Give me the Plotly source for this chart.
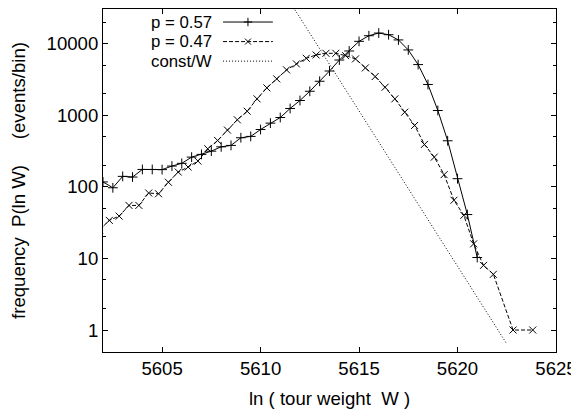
import plotly.graph_objects as go

# ---- data ----
p57_x = [5602.0 + 0.5 * i for i in range(39)]
p57_y = [117, 97, 140, 137, 175, 175, 174, 195, 213, 260,
         284, 315, 362, 379, 485, 506, 632, 776, 930, 1243,
         1606, 2163, 2983, 4150, 5910, 7900, 10770, 12900, 14060, 13330,
         11270, 8170, 5100, 2690, 1165, 440, 130, 41, 10.3]

p47_x = [5601.82 + 0.5 * i for i in range(45)]
p47_y = [25, 34, 39, 55, 55, 82, 80, 116, 161, 189,
         229, 340, 444, 620, 864, 1138, 1694, 2412, 3220, 4300,
         5210, 6240, 6950, 7330, 7330, 6800, 6120, 4580, 3470, 2460,
         1694, 1104, 720, 391, 260, 148, 65, 40, 16, 8,
         6, None, 1, None, 1]

constw_x = [5611.5, 5622.5]
constw_y = [38000, 0.64]

x_ticks = [5605, 5610, 5615, 5620, 5625]
y_ticks = [1, 10, 100, 1000, 10000]
y_minor = [2, 5, 20, 50, 200, 500, 2000, 5000, 20000]

legend_names = ["p = 0.57", "p = 0.47", "const/W"]

FONT = "Liberation Sans, Arial, Helvetica, sans-serif"
FS = 18.6
LEG_FS = 16.8
BLACK = "#000000"

fig = go.Figure()

fig.add_trace(go.Scatter(x=p57_x, y=p57_y, mode="lines+markers",
                         line=dict(color=BLACK, width=1),
                         marker=dict(symbol="cross-thin", size=7,
                                     line=dict(color=BLACK, width=1)),
                         showlegend=False))
fig.add_trace(go.Scatter(x=p47_x, y=p47_y, mode="lines+markers",
                         connectgaps=True,
                         line=dict(color=BLACK, width=1, dash="4px,2px"),
                         marker=dict(symbol="x-thin", size=7,
                                     line=dict(color=BLACK, width=1)),
                         showlegend=False))
fig.add_trace(go.Scatter(x=constw_x, y=constw_y, mode="lines",
                         line=dict(color=BLACK, width=1, dash="1px,2px"),
                         showlegend=False))

# gnuplot-style legend (text right, sample to the right) on an overlay axis
leg_y = [0.962, 0.905, 0.848]
leg_text_x = 0.243
leg_x0, leg_x1, leg_xm = 0.265, 0.375, 0.32
styles = [dict(dash="solid", sym="cross-thin"),
          dict(dash="4px,2px", sym="x-thin"),
          dict(dash="1px,2px", sym=None)]
for name, yy, st in zip(legend_names, leg_y, styles):
    fig.add_trace(go.Scatter(x=[leg_x0, leg_x1], y=[yy, yy], mode="lines",
                             xaxis="x2", yaxis="y2",
                             line=dict(color=BLACK, width=1, dash=st["dash"]),
                             showlegend=False, hoverinfo="skip"))
    if st["sym"]:
        fig.add_trace(go.Scatter(x=[leg_xm], y=[yy], mode="markers",
                                 xaxis="x2", yaxis="y2",
                                 marker=dict(symbol=st["sym"], size=6,
                                             line=dict(color=BLACK, width=1)),
                                 showlegend=False, hoverinfo="skip"))
    fig.add_annotation(x=leg_text_x, y=yy, xref="paper", yref="paper",
                       text=name, showarrow=False, xanchor="right",
                       yanchor="middle", borderpad=0,
                       font=dict(family=FONT, size=LEG_FS, color=BLACK))

nb = "\u00a0"
fig.update_layout(
    width=571, height=404,
    margin=dict(l=95, r=23, t=1, b=60),
    paper_bgcolor="white", plot_bgcolor="white",
    font=dict(family=FONT, size=FS, color=BLACK),
    showlegend=False,
    xaxis=dict(range=[5602, 5625], tickvals=x_ticks,
               ticks="inside", ticklen=5, tickcolor=BLACK,
               showline=True, linecolor=BLACK, linewidth=1, mirror="ticks",
               showgrid=False, zeroline=False,
               title=dict(text="ln ( tour weight" + nb * 2 + "W )",
                          font=dict(family=FONT, size=FS), standoff=13)),
    yaxis=dict(type="log", range=[-0.307, 4.484], tickvals=y_ticks,
               ticktext=[str(v) for v in y_ticks],
               ticks="inside", ticklen=5, tickcolor=BLACK,
               minor=dict(tickvals=y_minor, ticks="inside", ticklen=3,
                          tickcolor=BLACK, showgrid=False),
               showline=True, linecolor=BLACK, linewidth=1, mirror="ticks",
               showgrid=False, zeroline=False,
               title=dict(text="frequency" + nb * 2 + "P(ln W)" + nb * 5 + "(events/bin)",
                          font=dict(family=FONT, size=FS), standoff=26)),
    xaxis2=dict(overlaying="x", range=[0, 1], visible=False, fixedrange=True),
    yaxis2=dict(overlaying="y", range=[0, 1], visible=False, fixedrange=True),
)

fig.write_html("out.html")
